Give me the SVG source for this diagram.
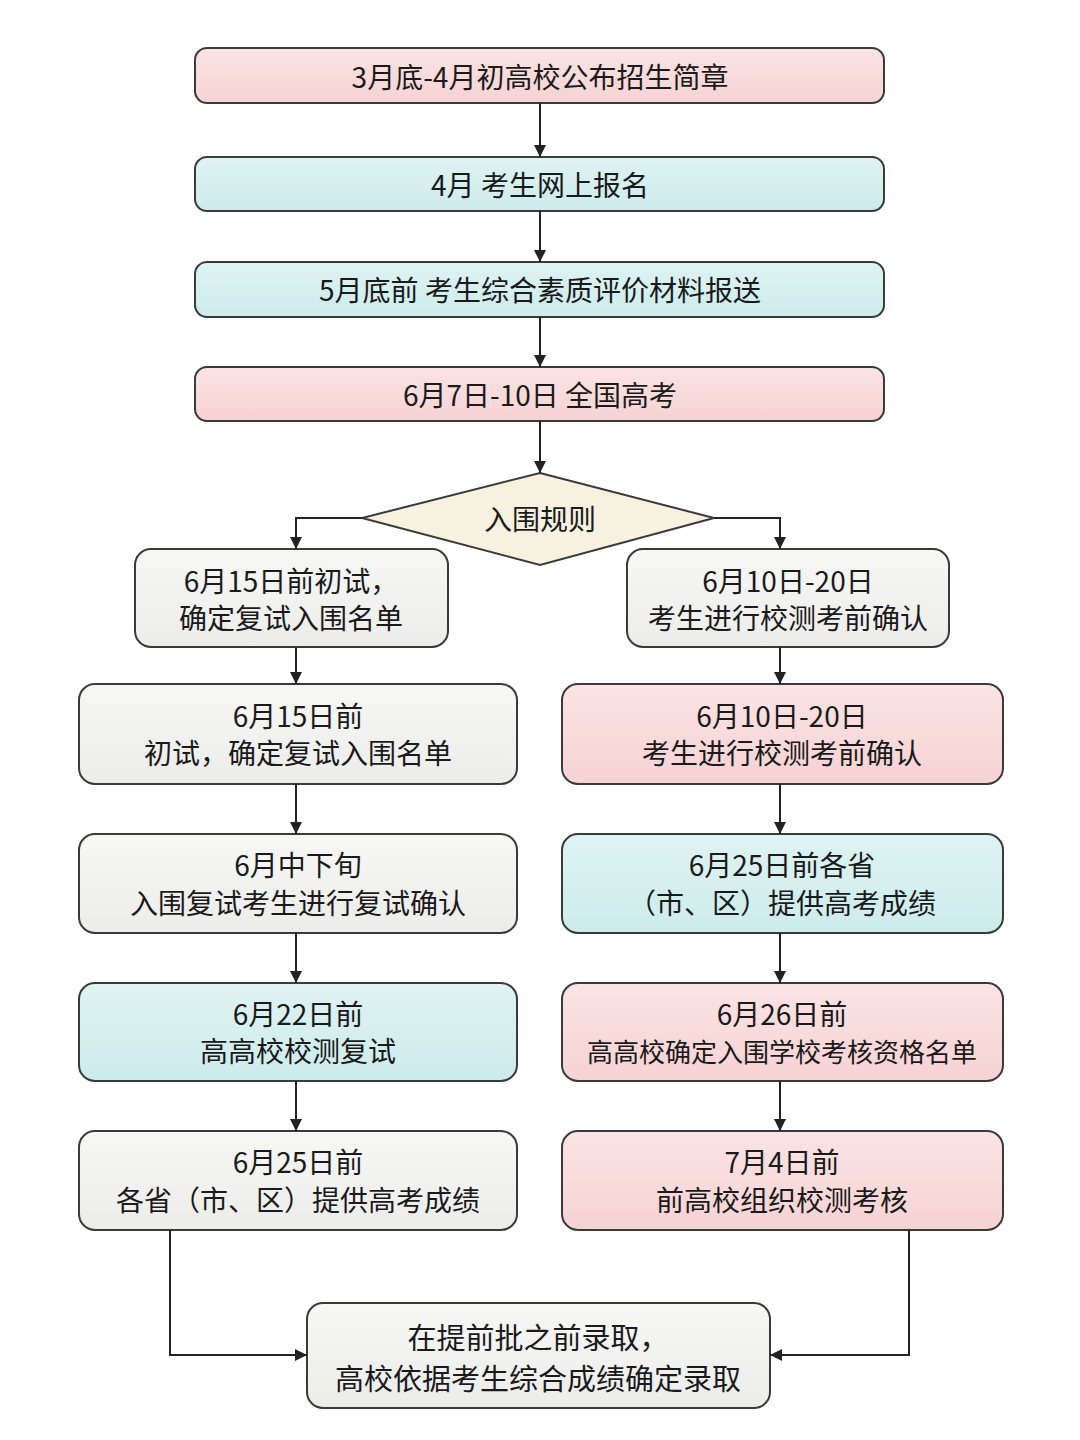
<svg xmlns="http://www.w3.org/2000/svg" width="1080" height="1440" viewBox="0 0 1080 1440">
<defs>
<linearGradient id="gp" x1="0" y1="0" x2="0" y2="1"><stop offset="0" stop-color="#fbe4e4"/><stop offset="1" stop-color="#f6d2d3"/></linearGradient>
<linearGradient id="gb" x1="0" y1="0" x2="0" y2="1"><stop offset="0" stop-color="#dff3f3"/><stop offset="1" stop-color="#cdebeb"/></linearGradient>
<linearGradient id="gg" x1="0" y1="0" x2="0" y2="1"><stop offset="0" stop-color="#f7f7f6"/><stop offset="1" stop-color="#ececeb"/></linearGradient>
<marker id="ah" viewBox="0 0 10 10" refX="10" refY="5" markerWidth="12" markerHeight="12" markerUnits="userSpaceOnUse" orient="auto"><path d="M0,0 L10,5 L0,10 Z" fill="#222"/></marker>
</defs>
<style>
.box{stroke:#3a3a3a;stroke-width:2}
.pink{fill:url(#gp)}
.blue{fill:url(#gb)}
.grey{fill:url(#gg)}
.dia{fill:#f7f1df;stroke:#3a3a3a;stroke-width:2}
text{font-family:"Noto Sans CJK SC","Noto Sans",sans-serif;fill:#1a1a1a;text-anchor:middle;dominant-baseline:central}
.t1{font-size:28px}
.t2{font-size:28px}
.t3{font-size:29px}
.t4{font-size:26px}
.con{fill:none;stroke:#222;stroke-width:2;marker-end:url(#ah)}
</style>
<rect width="1080" height="1440" fill="#ffffff"/>
<g id="n1"><rect class="box pink" x="195" y="48" width="689" height="55" rx="12"/><text class="t1" x="540" y="76">3月底-4月初高校公布招生简章</text></g>
<g id="n2"><rect class="box blue" x="195" y="157" width="689" height="54" rx="12"/><text class="t1" x="540" y="184">4月 考生网上报名</text></g>
<g id="n3"><rect class="box blue" x="195" y="262" width="689" height="55" rx="12"/><text class="t1" x="540" y="289">5月底前 考生综合素质评价材料报送</text></g>
<g id="n4"><rect class="box pink" x="195" y="367" width="689" height="54" rx="12"/><text class="t1" x="540" y="394">6月7日-10日 全国高考</text></g>
<g id="d1"><polygon class="dia" points="540,473 714,518 540,565 362,518"/><text class="t1" x="540" y="518">入围规则</text></g>
<g id="l1"><rect class="box grey" x="135" y="549" width="313" height="98" rx="16"/><text class="t2" x="291" y="580">6月15日前初试，</text><text class="t2" x="291" y="617">确定复试入围名单</text></g>
<g id="l2"><rect class="box grey" x="79" y="684" width="438" height="100" rx="16"/><text class="t2" x="298" y="715">6月15日前</text><text class="t2" x="298" y="752">初试，确定复试入围名单</text></g>
<g id="l3"><rect class="box grey" x="79" y="834" width="438" height="99" rx="16"/><text class="t2" x="298" y="864">6月中下旬</text><text class="t2" x="298" y="902">入围复试考生进行复试确认</text></g>
<g id="l4"><rect class="box blue" x="79" y="983" width="438" height="98" rx="16"/><text class="t2" x="298" y="1013">6月22日前</text><text class="t2" x="298" y="1050">高高校校测复试</text></g>
<g id="l5"><rect class="box grey" x="79" y="1131" width="438" height="99" rx="16"/><text class="t2" x="298" y="1161">6月25日前</text><text class="t2" x="298" y="1199">各省（市、区）提供高考成绩</text></g>
<g id="r1"><rect class="box grey" x="627" y="549" width="322" height="98" rx="16"/><text class="t2" x="788" y="580">6月10日-20日</text><text class="t2" x="788" y="617">考生进行校测考前确认</text></g>
<g id="r2"><rect class="box pink" x="562" y="684" width="441" height="100" rx="16"/><text class="t2" x="782" y="715">6月10日-20日</text><text class="t2" x="782" y="752">考生进行校测考前确认</text></g>
<g id="r3"><rect class="box blue" x="562" y="834" width="441" height="99" rx="16"/><text class="t2" x="782" y="864">6月25日前各省</text><text class="t2" x="782" y="902">（市、区）提供高考成绩</text></g>
<g id="r4"><rect class="box pink" x="562" y="983" width="441" height="98" rx="16"/><text class="t2" x="782" y="1013">6月26日前</text><text class="t4" x="782" y="1050">高高校确定入围学校考核资格名单</text></g>
<g id="r5"><rect class="box pink" x="562" y="1131" width="441" height="99" rx="16"/><text class="t2" x="782" y="1161">7月4日前</text><text class="t2" x="782" y="1199">前高校组织校测考核</text></g>
<g id="f1"><rect class="box grey" x="307" y="1303" width="463" height="105" rx="16"/><text class="t3" x="538" y="1336">在提前批之前录取，</text><text class="t3" x="538" y="1377">高校依据考生综合成绩确定录取</text></g>
<g id="connectors">
<path class="con" d="M540,103 V157"/>
<path class="con" d="M540,211 V262"/>
<path class="con" d="M540,317 V367"/>
<path class="con" d="M540,421 V473"/>
<path class="con" d="M362,518 H296 V549"/>
<path class="con" d="M714,518 H780 V549"/>
<path class="con" d="M296,647 V684"/>
<path class="con" d="M296,784 V834"/>
<path class="con" d="M296,933 V983"/>
<path class="con" d="M296,1081 V1131"/>
<path class="con" d="M780,647 V684"/>
<path class="con" d="M780,784 V834"/>
<path class="con" d="M780,933 V983"/>
<path class="con" d="M780,1081 V1131"/>
<path class="con" d="M170,1230 V1355 H307"/>
<path class="con" d="M909,1230 V1355 H770"/>
</g>
</svg>
